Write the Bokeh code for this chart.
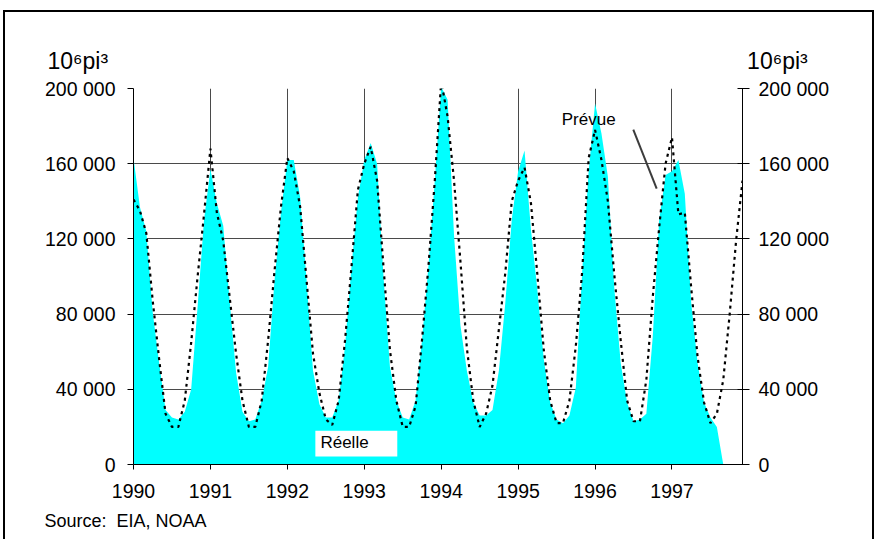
from bokeh.plotting import figure
from bokeh.models import (LinearAxis, FixedTicker, Label, BoxAnnotation, Range1d, Title,
                          InlineStyleSheet)
from bokeh.embed import file_html
from bokeh.resources import INLINE

# ---------------- data (thousands of 10^6 ft3, monthly) ----------------
years = [1990, 1991, 1992, 1993, 1994, 1995, 1996, 1997]
year_labels = ["1990", "1991", "1992", "1993", "1994", "1995", "1996", "1997"]

actual_1990 = [163, 137, 124, 81, 54, 29, 25, 24, 28, 40, 84, 130]
actual_1991 = [157, 139, 127, 87, 49, 28, 23, 24, 34, 52, 98, 134]
actual_1992 = [162, 162, 142, 98, 50, 32, 25, 25, 34, 63, 105, 142]
actual_1993 = [162, 171, 160, 100, 52, 34, 25, 24, 34, 66, 105, 151]
actual_1994 = [201, 194, 122, 74, 50, 33, 26, 26, 29, 50, 86, 130]
actual_1995 = [156, 167, 125, 93, 56, 33, 24, 22, 26, 41, 103, 156]
actual_1996 = [192, 176, 153, 94, 54, 33, 23, 24, 27, 68, 130, 154]
actual_1997 = [156, 162, 144, 86, 54, 33, 25, 20, 0]

forecast_1990 = [141, 135, 123, 87, 56, 27, 20, 20, 34, 65, 100, 133]
forecast_1991 = [168, 134, 119, 89, 59, 34, 20, 20, 34, 66, 103, 137]
forecast_1992 = [163, 156, 137, 98, 59, 38, 24, 21, 34, 66, 105, 146]
forecast_1993 = [160, 169, 151, 105, 61, 34, 20, 20, 31, 66, 105, 151]
forecast_1994 = [204, 185, 151, 108, 62, 34, 20, 27, 42, 72, 102, 140]
forecast_1995 = [151, 158, 139, 101, 61, 34, 22, 22, 34, 63, 103, 163]
forecast_1996 = [178, 162, 140, 101, 66, 34, 23, 23, 45, 89, 126, 160]
forecast_1997 = [174, 133, 134, 94, 57, 33, 22, 27, 45, 80, 119, 151]

y_ticks = [0, 40000, 80000, 120000, 160000, 200000]
y_tick_labels = ["0", "40 000", "80 000", "120 000", "160 000", "200 000"]
unit_text = "10\u2076pi\u00b3"
source_text = "Source:\u00a0 EIA, NOAA"

actual = [v * 1000 for v in (actual_1990 + actual_1991 + actual_1992 + actual_1993 +
                             actual_1994 + actual_1995 + actual_1996 + actual_1997)]
forecast = [v * 1000 for v in (forecast_1990 + forecast_1991 + forecast_1992 + forecast_1993 +
                               forecast_1994 + forecast_1995 + forecast_1996 + forecast_1997)]
x_fore = [years[0] + i / 12 for i in range(len(forecast))]
x_act = x_fore[:len(actual)]

FONT = "Liberation Sans"

p = figure(width=877, height=539, output_backend="svg", toolbar_location=None,
           x_range=Range1d(years[0], x_fore[-1]), y_range=Range1d(0, 200000),
           min_border_left=133, min_border_right=135, min_border_top=88, min_border_bottom=74)
p.outline_line_color = None
p.background_fill_color = "white"
p.border_fill_color = "white"

# grid
p.xgrid.ticker = FixedTicker(ticks=years)
p.ygrid.ticker = FixedTicker(ticks=y_ticks)
for g in (p.xgrid[0], p.ygrid[0]):
    g.grid_line_color = "#4a4a4a"
    g.grid_line_width = 1

# data
p.varea(x=x_act, y1=0, y2=actual, fill_color="#00FFFF", fill_alpha=1.0)
p.line(x_fore, forecast, line_color="black", line_width=2.2, line_dash="3 4")

# axes
xa = p.xaxis[0]
xa.ticker = FixedTicker(ticks=years)
xa.major_label_overrides = {y: l for y, l in zip(years, year_labels)}
ya = p.yaxis[0]
ya.ticker = FixedTicker(ticks=y_ticks)
ya.major_label_overrides = {t: l for t, l in zip(y_ticks, y_tick_labels)}
ra = LinearAxis(ticker=FixedTicker(ticks=y_ticks))
ra.major_label_overrides = {t: l for t, l in zip(y_ticks, y_tick_labels)}
p.add_layout(ra, "right")

for ax in (xa, ya, ra):
    ax.axis_line_color = "black"
    ax.axis_line_width = 1
    ax.major_tick_line_color = "black"
    ax.minor_tick_line_color = None
    ax.major_label_text_font = FONT
    ax.major_label_text_font_size = "19.5px"
    ax.major_label_text_color = "black"
xa.major_tick_in = 0
xa.major_tick_out = 5
xa.major_label_standoff = 14
ya.major_tick_in = 0
ya.major_tick_out = 6
ya.major_label_standoff = 12
ra.major_tick_in = 5
ra.major_tick_out = 7
ra.major_label_standoff = 9

# unit titles above both value axes (one title row, left and right parts)
p.add_layout(Title(text=unit_text + "\u00a0" * 100 + unit_text, align="left", offset=-86,
                   standoff=25, vertical_align="top", text_font=FONT, text_font_size="23px",
                   text_font_style="normal", text_color="black"), "above")

# source note
p.add_layout(Title(text=source_text, align="left", offset=-89, standoff=17,
                   text_font=FONT, text_font_size="18px", text_font_style="normal",
                   text_color="black"), "below")

# series labels
p.add_layout(Label(x=1995.567, y=178300, text="Prévue", text_font=FONT,
                   text_font_size="17px", text_color="black"))
p.segment(x0=[1996.497], y0=[178100], x1=[1996.801], y1=[146800],
          line_color="#3c3c3c", line_width=2)
p.add_layout(BoxAnnotation(left=1992.364, right=1993.429, bottom=4200, top=18000,
                           fill_color="white", fill_alpha=1.0, line_color=None))
p.add_layout(Label(x=1992.43, y=6400, text="Réelle", text_font=FONT,
                   text_font_size="17px", text_color="black"))

# outer frame of the chart (drawn by the page around the canvas)
p.stylesheets = [InlineStyleSheet(css=(
    ":host { position: relative; overflow: hidden; }"
    ":host::after { content: ''; position: absolute; left: 3px; top: 10px; right: 3px; "
    "bottom: 0px; border-left: 2px solid black; border-top: 2px solid black; "
    "border-right: 2px solid black; pointer-events: none; }"))]

open("out.html", "w").write(file_html(p, INLINE))
